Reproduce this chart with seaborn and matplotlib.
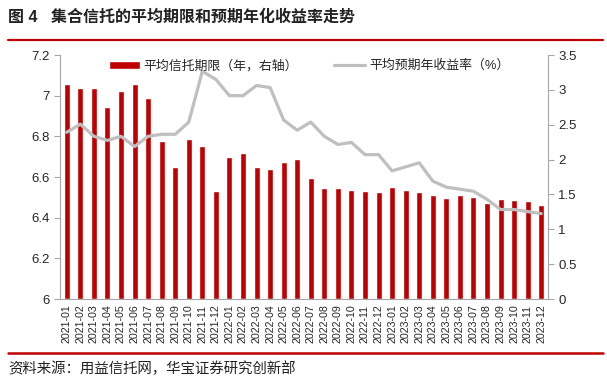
import numpy as np
import pandas as pd
import seaborn as sns
import matplotlib.pyplot as plt
from matplotlib.lines import Line2D
from matplotlib.ticker import FuncFormatter

# 月份
meses = ["2021-01", "2021-02", "2021-03", "2021-04", "2021-05", "2021-06",
         "2021-07", "2021-08", "2021-09", "2021-10", "2021-11", "2021-12",
         "2022-01", "2022-02", "2022-03", "2022-04", "2022-05", "2022-06",
         "2022-07", "2022-08", "2022-09", "2022-10", "2022-11", "2022-12",
         "2023-01", "2023-02", "2023-03", "2023-04", "2023-05", "2023-06",
         "2023-07", "2023-08", "2023-09", "2023-10", "2023-11", "2023-12"]

# 平均信托期限（年，右轴）
prazo = [3.08, 3.02, 3.02, 2.76, 2.98, 3.09, 2.88, 2.26, 1.90, 2.29, 2.19, 1.55,
         2.04, 2.10, 1.89, 1.86, 1.96, 2.01, 1.73, 1.59, 1.59, 1.56, 1.545, 1.53,
         1.60, 1.57, 1.53, 1.49, 1.45, 1.49, 1.47, 1.38, 1.44, 1.42, 1.40, 1.35]

# 平均预期年收益率（%，左轴）
rendimento = [6.82, 6.86, 6.80, 6.78, 6.80, 6.75, 6.80, 6.81, 6.81, 6.87, 7.12, 7.08,
              7.00, 7.00, 7.05, 7.04, 6.88, 6.83, 6.87, 6.80, 6.76, 6.77, 6.71, 6.71,
              6.63, 6.65, 6.67, 6.58, 6.55, 6.54, 6.53, 6.49, 6.44, 6.44, 6.43, 6.42]

df = pd.DataFrame({'月份': meses, '期限': prazo, '收益率': rendimento,
                   'pos': np.arange(len(meses))})

sns.set_style("white")
plt.rcParams['font.family'] = ['Liberation Sans', 'Noto Sans CJK SC']
plt.rcParams['axes.unicode_minus'] = False

cinza = '#A6A6A6'
vermelho = '#C00000'

fig = plt.figure(figsize=(6.07, 3.85), dpi=100)
ax = fig.add_axes([60 / 607, 1 - 299 / 385, 488 / 607, 244 / 385])
ax2 = ax.twinx()

# barras no eixo direito
sns.barplot(data=df, x='pos', y='期限', color=vermelho, width=0.45,
            saturation=1, native_scale=True, ax=ax2, label='平均信托期限（年，右轴）')
# linha no eixo esquerdo
sns.lineplot(data=df, x='pos', y='收益率', color='#BFBFBF', linewidth=2.3,
             ax=ax, label='平均预期年收益率（%）')

ax.set_zorder(ax2.get_zorder() + 1)
ax.patch.set_visible(False)

ax.set_xlim(-0.5, len(meses) - 0.5)
ax.set_ylim(6, 7.2)
ax.set_yticks(np.arange(6, 7.21, 0.2))
ax2.set_ylim(0, 3.5)
ax2.set_yticks(np.arange(0, 3.51, 0.5))
fmt = FuncFormatter(lambda v, p: f'{v:g}')
ax.yaxis.set_major_formatter(fmt)
ax2.yaxis.set_major_formatter(fmt)

ax.set_xticks(df['pos'])
ax.set_xticklabels(meses, rotation=90)
ax.set_xticks(np.arange(-0.5, len(meses), 1), minor=True)
ax.tick_params(axis='x', which='major', length=0, labelsize=7.7, pad=4)
ax.tick_params(axis='x', which='minor', length=4, color=cinza, width=0.8)
ax.tick_params(axis='y', length=4, color=cinza, width=0.8, labelsize=9.5)
ax2.tick_params(axis='y', length=4, color=cinza, width=0.8, labelsize=9.5)

for a in (ax, ax2):
    a.set_xlabel('')
    a.set_ylabel('')
    a.grid(False)
    for s in a.spines.values():
        s.set_visible(False)
ax.spines['left'].set_visible(True)
ax.spines['bottom'].set_visible(True)
ax2.spines['right'].set_visible(True)
for s in (ax.spines['left'], ax.spines['bottom'], ax2.spines['right']):
    s.set_color(cinza)
    s.set_linewidth(0.8)

# legenda
h1, l1 = ax2.get_legend_handles_labels()
h2, l2 = ax.get_legend_handles_labels()
if ax.get_legend():
    ax.get_legend().remove()
if ax2.get_legend():
    ax2.get_legend().remove()
ax.legend(h1 + h2, l1 + l2, loc='center', bbox_to_anchor=(0.51, 0.955), ncol=2,
          frameon=False, fontsize=9.3, handlelength=2.4, handleheight=0.6,
          columnspacing=2.8, handletextpad=0.3)

# título e fonte
fig.text(8 / 607, 1 - 17 / 385, '图 4   集合信托的平均期限和预期年化收益率走势',
         fontsize=11.5, fontweight='bold', color='#222222', va='center', ha='left')
fig.add_artist(Line2D([8 / 607, 603 / 607], [1 - 39.5 / 385] * 2,
                      color=vermelho, linewidth=1.6))
fig.add_artist(Line2D([8 / 607, 603 / 607], [1 - 353 / 385] * 2,
                      color=vermelho, linewidth=1.8))
fig.text(8 / 607, 1 - 369 / 385, '资料来源：用益信托网，华宝证券研究创新部',
         fontsize=10.4, color='#222222', va='center', ha='left')

fig.savefig('out.png', dpi=100)
